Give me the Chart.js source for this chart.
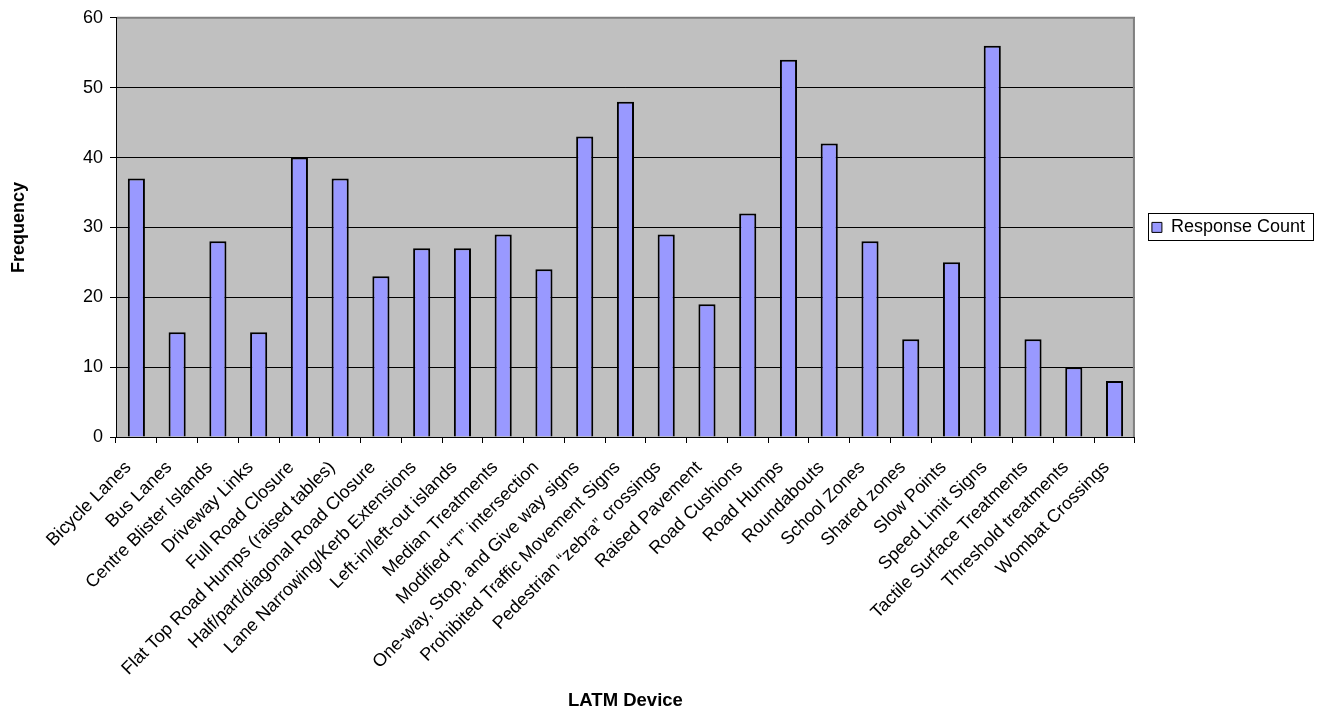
<!DOCTYPE html>
<html>
<head>
<meta charset="utf-8">
<title>LATM Device Responses</title>
<script src="https://cdn.jsdelivr.net/npm/chart.js@4/dist/chart.umd.min.js"></script>
<style>
  html, body { margin: 0; padding: 0; background: #ffffff; }
  #wrap { width: 1324px; height: 710px; }
</style>
</head>
<body>
<div id="wrap"><canvas id="chart" width="1324" height="710"></canvas></div>
<script>
const categories = [
  'Bicycle Lanes', 'Bus Lanes', 'Centre Blister Islands', 'Driveway Links',
  'Full Road Closure', 'Flat Top Road Humps (raised tables)',
  'Half/part/diagonal Road Closure', 'Lane Narrowing/Kerb Extensions',
  'Left-in/left-out islands', 'Median Treatments',
  'Modified \u201cT\u201d intersection', 'One-way, Stop, and Give way signs',
  'Prohibited Traffic Movement Signs', 'Pedestrian \u201czebra\u201d crossings',
  'Raised Pavement', 'Road Cushions', 'Road Humps', 'Roundabouts',
  'School Zones', 'Shared zones', 'Slow Points', 'Speed Limit Signs',
  'Tactile Surface Treatments', 'Threshold treatments', 'Wombat Crossings'
];
const responseCount = [37, 15, 28, 15, 40, 37, 23, 27, 27, 29, 24, 43, 48, 29, 19, 32, 54, 42, 28, 14, 25, 56, 14, 10, 8];
const seriesLabel = 'Response Count';
const xTitle = 'LATM Device';
const yTitle = 'Frequency';
const yMin = 0, yMax = 60, yStep = 10;

const FONT = "'Liberation Sans', Arial, sans-serif";

// Grey plot background, grey top/right frame, and a box round the legend entry
const plotFrame = {
  id: 'plotFrame',
  beforeDraw(chart) {
    const {ctx, chartArea: a} = chart;
    ctx.save();
    ctx.fillStyle = '#c0c0c0';
    ctx.fillRect(a.left, a.top, a.right - a.left, a.bottom - a.top);
    ctx.restore();
  },
  afterDraw(chart) {
    const {ctx, chartArea: a} = chart;
    ctx.save();
    ctx.strokeStyle = '#808080';
    ctx.lineWidth = 2;
    ctx.beginPath();
    ctx.moveTo(a.left + 1, a.top);
    ctx.lineTo(a.right - 1, a.top);
    ctx.lineTo(a.right - 1, a.bottom);
    ctx.stroke();
    const lg = chart.legend;
    if (lg && lg.legendHitBoxes && lg.legendHitBoxes.length) {
      const hb = lg.legendHitBoxes[0];
      ctx.strokeStyle = '#000000';
      ctx.lineWidth = 1;
      const cy = hb.top + hb.height / 2;
      ctx.strokeRect(Math.round(hb.left - 4) + 0.5, Math.round(cy - 14) + 0.5,
                     Math.round(hb.width + 12), 27);
    }
    ctx.restore();
  }
};

new Chart(document.getElementById('chart'), {
  type: 'bar',
  data: {
    labels: categories,
    datasets: [{
      label: seriesLabel,
      data: responseCount,
      backgroundColor: '#9999ff',
      borderColor: '#000000',
      borderWidth: 2,
      categoryPercentage: 1.0,
      barPercentage: 0.42
    }]
  },
  options: {
    responsive: false,
    animation: false,
    events: [],
    layout: { padding: { top: 17, right: 9, left: 0, bottom: 0 } },
    plugins: {
      tooltip: { enabled: false },
      legend: {
        position: 'right',
        fullSize: false,
        align: 'center',
        labels: {
          font: { family: FONT, size: 18 },
          color: '#000000',
          boxWidth: 10,
          boxHeight: 10,
          padding: 17,
          generateLabels(chart) {
            const ds = chart.data.datasets[0];
            return [{
              text: ds.label,
              fillStyle: ds.backgroundColor,
              strokeStyle: '#000000',
              lineWidth: 1,
              datasetIndex: 0,
              hidden: false
            }];
          }
        }
      }
    },
    scales: {
      x: {
        afterFit(scale) { scale.height = 273; },
        grid: {
          display: true,
          drawOnChartArea: false,
          drawTicks: true,
          tickLength: 6,
          tickColor: '#000000',
          offset: true
        },
        border: { display: true, color: '#000000', width: 1 },
        ticks: {
          autoSkip: false,
          minRotation: 45,
          maxRotation: 45,
          padding: 14,
          labelOffset: -8,
          color: '#000000',
          font: { family: FONT, size: 18 }
        },
        title: {
          display: true,
          text: xTitle,
          color: '#000000',
          font: { family: FONT, size: 18.5, weight: 'bold', lineHeight: 1 },
          padding: { top: 0, bottom: 0 }
        }
      },
      y: {
        min: yMin,
        max: yMax,
        afterFit(scale) { scale.width = 116; },
        grid: {
          color: '#000000',
          lineWidth: 1,
          drawTicks: true,
          tickLength: 6,
          tickColor: '#000000'
        },
        border: { display: true, color: '#000000', width: 1 },
        ticks: {
          stepSize: yStep,
          padding: 7,
          color: '#000000',
          font: { family: FONT, size: 18 }
        },
        title: {
          display: true,
          text: yTitle,
          color: '#000000',
          font: { family: FONT, size: 18, weight: 'bold', lineHeight: 1 },
          padding: { top: 10, bottom: 0 }
        }
      }
    }
  },
  plugins: [plotFrame]
});
</script>
</body>
</html>
